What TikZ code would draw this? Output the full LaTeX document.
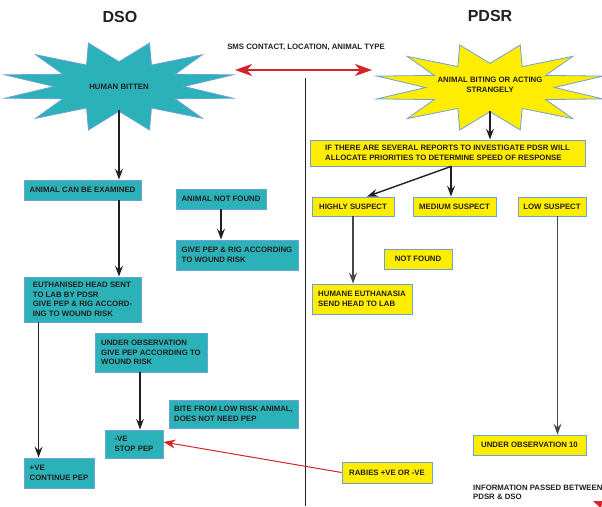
\documentclass[tikz,border=0pt]{standalone}
\usepackage{fontspec}
\setmainfont{Liberation Sans}
\usetikzlibrary{arrows.meta}

\definecolor{dsoteal}{RGB}{43,178,184}
\definecolor{pdsryellow}{RGB}{255,237,0}
\definecolor{edgeblue}{RGB}{110,160,218}
\definecolor{inkdark}{RGB}{35,31,32}
\definecolor{linkred}{RGB}{214,35,42}

\begin{document}
\begin{tikzpicture}[x=1pt,y=-1pt,
  every node/.style={font=\bfseries\fontsize{7.8}{9.5}\selectfont, text=inkdark},
  title/.style={font=\bfseries\fontsize{16}{19}\selectfont},
  dsobox/.style={draw=edgeblue, fill=dsoteal, line width=0.9pt, align=left, inner sep=0},
  pdsrbox/.style={draw=edgeblue, fill=pdsryellow, line width=0.9pt, align=left, inner sep=0},
  burst/.style={draw=edgeblue, line width=0.8pt},
  flow/.style={-{Stealth[length=11pt,width=8pt,inset=4pt]}, line width=1.4pt, draw=inkdark},
  flowgray/.style={-{Stealth[length=11pt,width=8pt,inset=4pt]}, line width=1.2pt, draw=black!72},
  link/.style={{Stealth[length=17pt,width=12pt,inset=5pt]}-{Stealth[length=17pt,width=12pt,inset=5pt]}, line width=2.2pt, draw=linkred},
  report/.style={-{Stealth[length=12pt,width=9pt,inset=4pt]}, line width=1pt, draw=linkred}]
  \useasboundingbox (0,0) rectangle (602,506);
  \clip (0,0) rectangle (602,506);

  % headings
  \node[title] (dso) at (120,17) {DSO};
  \node[title] (pdsr) at (490,16) {PDSR};
  \node (sms) at (306,47) {SMS CONTACT, LOCATION, ANIMAL TYPE};
  \draw[line width=1pt, inkdark] (305,78) -- (305,506);

  % the two bursts
  \draw[burst, fill=dsoteal] plot[samples at={0,15,...,345}]
    ({119+118*ifthenelse(mod(\x,30)==15,1,0.55)*cos(\x)}, {86.5+45*ifthenelse(mod(\x,30)==15,1,0.55)*sin(\x)}) -- cycle;
  \draw[burst, fill=pdsryellow] plot[samples at={0,15,...,345}]
    ({490+117*ifthenelse(mod(\x,30)==15,1,0.55)*cos(\x)}, {87.5+44*ifthenelse(mod(\x,30)==15,1,0.55)*sin(\x)}) -- cycle;
  \node (bitten) at (119,87) {HUMAN BITTEN};
  \node[align=center] (biting) at (490,85) {ANIMAL BITING OR ACTING\\STRANGELY};
  \coordinate (bitten-s) at (119,110);
  \coordinate (bitten-e) at (235,70);
  \coordinate (biting-s) at (490,111);
  \coordinate (biting-w) at (372,70);
  \draw[link] (bitten-e) -- (biting-w);

  % DSO side
  \node[dsobox, minimum width=117, minimum height=20] (examined) at (82.5,190) {ANIMAL CAN BE EXAMINED};
  \node[dsobox, minimum width=90, minimum height=20] (notfoundA) at (221,199) {ANIMAL NOT FOUND};
  \node[dsobox, minimum width=122, minimum height=30] (peprig) at (237,255) {GIVE PEP \& RIG ACCORDING\\TO WOUND RISK};
  \node[dsobox, minimum width=117, minimum height=45] (euthan) at (82.5,299.5) {EUTHANISED HEAD SENT\\TO LAB BY PDSR\\GIVE PEP \& RIG ACCORD-\\ING TO WOUND RISK};
  \node[dsobox, minimum width=112, minimum height=39] (observe) at (151,352.5) {UNDER OBSERVATION\\GIVE PEP ACCORDING TO\\WOUND RISK};
  \node[dsobox, minimum width=129, minimum height=28] (lowrisk) at (233.5,414) {BITE FROM LOW RISK ANIMAL,\\DOES NOT NEED PEP};
  \node[dsobox, minimum width=58, minimum height=28] (stop) at (134,444) {-VE\\STOP PEP};
  \node[dsobox, minimum width=70, minimum height=30] (positive) at (59,473) {+VE\\CONTINUE PEP};
  \coordinate (euthan-l) at ([xshift=15pt]euthan.south west);
  \coordinate (observe-l) at ([xshift=-11pt]observe.south);

  \draw[flow] (bitten-s) -- (bitten-s |- examined.north);
  \draw[flow] (bitten-s |- examined.south) -- (bitten-s |- euthan.north);
  \draw[flow] (notfoundA) -- (notfoundA |- peprig.north);
  \draw[flow] (euthan-l) -- (euthan-l |- positive.north);
  \draw[flow] (observe-l) -- (observe-l |- stop.north);

  % PDSR side
  \node[pdsrbox, minimum width=275, minimum height=26] (priorities) at (447.5,153) {IF THERE ARE SEVERAL REPORTS TO INVESTIGATE PDSR WILL\\ALLOCATE PRIORITIES TO DETERMINE SPEED OF RESPONSE};
  \node[pdsrbox, minimum width=82, minimum height=19] (highly) at (353,206.5) {HIGHLY SUSPECT};
  \node[pdsrbox, minimum width=83, minimum height=19] (medium) at (454.5,206.5) {MEDIUM SUSPECT};
  \node[pdsrbox, minimum width=68, minimum height=19] (low) at (552,206.5) {LOW SUSPECT};
  \node[pdsrbox, minimum width=68, minimum height=20] (notfoundB) at (418,259) {NOT FOUND};
  \node[pdsrbox, minimum width=100, minimum height=30] (humane) at (362,299) {HUMANE EUTHANASIA\\SEND HEAD TO LAB};
  \node[pdsrbox, minimum width=113, minimum height=20] (obs10) at (529.5,445) {UNDER OBSERVATION 10};
  \node[pdsrbox, minimum width=90, minimum height=21] (rabies) at (387,472.5) {RABIES +VE OR -VE};
  \coordinate (prio-s) at ([xshift=3.5pt]priorities.south);
  \coordinate (low-r) at ([xshift=5.5pt]low.south);

  \draw[flow] (biting-s) -- (biting-s |- priorities.north);
  \draw[flow] (prio-s) -- ([xshift=14pt]highly.north);
  \draw[flow] (prio-s) -- (prio-s |- medium.north);
  \draw[flowgray] (highly.south) -- (highly.south |- humane.north);
  \draw[flowgray] (low-r) -- (low-r |- obs10.north);

  % results back to DSO
  \draw[report] (rabies.west) -- ([yshift=2pt]stop.east);

  % key
  \node[anchor=north west, align=left, inner sep=0] (info) at (473,484.5) {INFORMATION PASSED BETWEEN\\PDSR \& DSO};
  \coordinate (key-a) at (640,520);
  \coordinate (key-b) at (593,501);
  \draw[report, line width=2pt] (key-a) -- (key-b);
\end{tikzpicture}
\end{document}
